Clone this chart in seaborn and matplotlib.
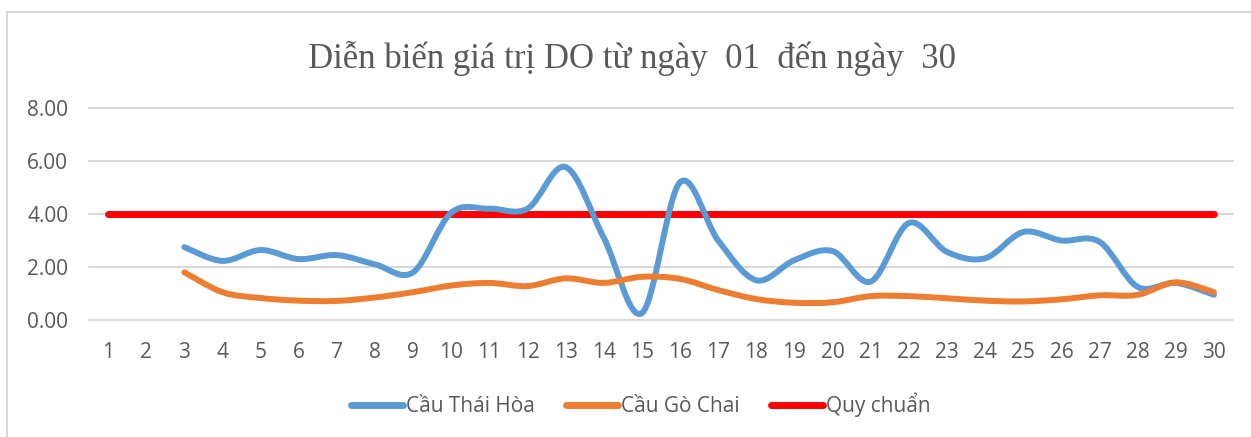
import numpy as np
import pandas as pd
import matplotlib
matplotlib.use("Agg")
import matplotlib.pyplot as plt
from matplotlib.path import Path
from matplotlib.patches import PathPatch, Rectangle
from matplotlib.lines import Line2D
import seaborn as sns

# ---- data ----
days = list(range(1, 31))
thai_hoa = [np.nan, np.nan, 2.75, 2.23, 2.64, 2.30, 2.45, 2.10, 1.80, 4.05,
            4.20, 4.20, 5.77, 3.10, 0.26, 5.20, 3.00, 1.50, 2.26, 2.60,
            1.45, 3.66, 2.57, 2.33, 3.32, 3.00, 2.95, 1.25, 1.40, 0.95]
go_chai = [np.nan, np.nan, 1.80, 1.05, 0.83, 0.73, 0.72, 0.85, 1.05, 1.30,
           1.40, 1.28, 1.57, 1.40, 1.63, 1.55, 1.13, 0.79, 0.65, 0.67,
           0.90, 0.90, 0.82, 0.73, 0.70, 0.78, 0.93, 0.95, 1.42, 1.05]
quy_chuan = [4.0] * 30

labels = ["Cầu Thái Hòa", "Cầu Gò Chai", "Quy chuẩn"]
colors = ["#5b9bd5", "#ed7d31", "#ff0000"]
title = "Diễn biến giá trị DO từ ngày  01  đến ngày  30"

df = pd.DataFrame({"day": days, labels[0]: thai_hoa,
                   labels[1]: go_chai, labels[2]: quy_chuan})


def smooth_path(x, y):
    # Excel-style smoothed line: cubic bezier through every data point
    pts = [(a, b) for a, b in zip(x, y) if not np.isnan(b)]
    verts = [pts[0]]
    codes = [Path.MOVETO]
    for i in range(len(pts) - 1):
        p0 = pts[i - 1] if i > 0 else pts[i]
        p1, p2 = pts[i], pts[i + 1]
        p3 = pts[i + 2] if i + 2 < len(pts) else p2
        c1 = (p1[0] + (p2[0] - p0[0]) / 6, p1[1] + (p2[1] - p0[1]) / 6)
        c2 = (p2[0] - (p3[0] - p1[0]) / 6, p2[1] - (p3[1] - p1[1]) / 6)
        verts += [c1, c2, p2]
        codes += [Path.CURVE4] * 3
    return Path(verts, codes)


sns.set_style("white")
plt.rcParams['font.family'] = ['Open Sans', 'DejaVu Sans']

fig = plt.figure(figsize=(12.51, 4.37), dpi=100)
ax = fig.add_axes([89 / 1251, 1 - 320 / 437, 1144 / 1251, 212 / 437])

# threshold line (straight) via seaborn
sns.lineplot(data=df, x="day", y=labels[2], ax=ax, color=colors[2],
             linewidth=5, solid_capstyle="round", zorder=3)

# smoothed series
for name, col in zip(labels[:2], colors[:2]):
    patch = PathPatch(smooth_path(df["day"], df[name]), facecolor="none",
                      edgecolor=col, linewidth=4.3, capstyle="round",
                      joinstyle="round", zorder=4, transform=ax.transData)
    ax.add_patch(patch)

ax.set_xlim(0.5, 30.5)
ax.set_ylim(0, 8)
ax.set_xticks(days)
ax.set_yticks([0, 2, 4, 6, 8])
ax.set_yticklabels([f"{v:.2f}" for v in [0, 2, 4, 6, 8]])
for v in [0, 2, 4, 6, 8]:
    ax.axhline(v, color="#d9d9d9", linewidth=1.5, zorder=1, clip_on=False)
ax.set_xlabel("")
ax.set_ylabel("")
for s in ax.spines.values():
    s.set_visible(False)
ax.tick_params(axis="both", length=0, labelsize=15, labelcolor="#595959")
ax.tick_params(axis="y", pad=15)
ax.tick_params(axis="x", pad=16)

fig.text(632 / 1251, 1 - 58 / 437, title, ha="center", va="center",
         family="Liberation Serif", fontsize=25, color="#595959")

handles = [Line2D([], [], color=c, linewidth=5, solid_capstyle="round")
           for c in colors]
fig.legend(handles, labels, loc="center", bbox_to_anchor=(641 / 1251, 1 - 405 / 437),
           ncol=3, frameon=False, fontsize=15, handlelength=2.5,
           handletextpad=0.15, columnspacing=1.5, labelcolor="#595959")

# chart area border (top and left edges visible)
fig.patches.append(Rectangle((7 / 1251, -0.05), 1.1, 1 - 12 / 437 + 0.05,
                             transform=fig.transFigure, fill=False,
                             edgecolor="#d9d9d9", linewidth=1.5))

fig.savefig("out.png", dpi=100, facecolor="white")
